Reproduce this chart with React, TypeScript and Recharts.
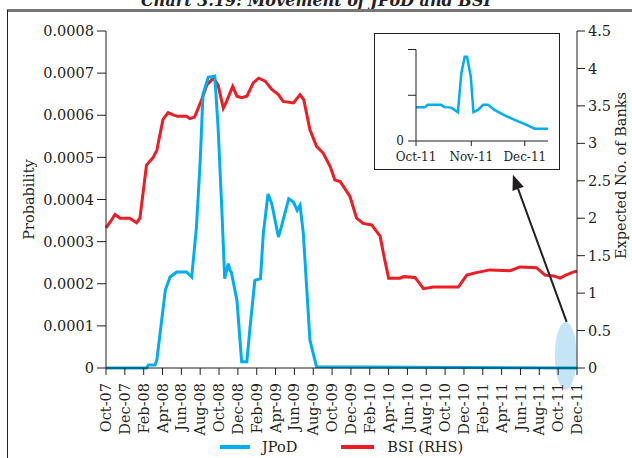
import React from 'react';
import {
  LineChart,
  Line,
  XAxis,
  YAxis,
  Legend,
  ReferenceArea,
  ReferenceLine,
} from 'recharts';

// month index: 0 = Oct-07 ... 50 = Dec-11
const MONTH_LABELS = [
  'Oct-07', 'Dec-07', 'Feb-08', 'Apr-08', 'Jun-08', 'Aug-08', 'Oct-08', 'Dec-08',
  'Feb-09', 'Apr-09', 'Jun-09', 'Aug-09', 'Oct-09', 'Dec-09', 'Feb-10', 'Apr-10',
  'Jun-10', 'Aug-10', 'Oct-10', 'Dec-10', 'Feb-11', 'Apr-11', 'Jun-11', 'Aug-11',
  'Oct-11', 'Dec-11',
];
const MONTH_TICKS = MONTH_LABELS.map((_, i) => i * 2);

const PROB_TICKS = [0, 0.0001, 0.0002, 0.0003, 0.0004, 0.0005, 0.0006, 0.0007, 0.0008];
const BANK_TICKS = [0, 0.5, 1, 1.5, 2, 2.5, 3, 3.5, 4, 4.5];

// BSI (RHS) - expected no. of banks
const BSI_MONTH = [
  0, 0.5, 0.95, 1.5, 2.5, 3.25, 3.6, 4.3, 5, 5.4, 6.05, 6.6, 7.1, 7.6, 8.55, 8.9,
  9.4, 10.15, 10.7, 11.4, 11.9, 12.45, 12.8, 13.45, 13.9, 14.4, 14.95, 15.65, 16.2,
  16.9, 17.6, 18.3, 18.8, 19.9, 20.6, 21, 21.65, 22.35, 23.05, 23.8, 24.3, 24.85,
  25.9, 26.6, 27.3, 28.2, 29.1, 29.45, 30, 31.2, 31.6, 32.8, 33.7, 34.75, 37.4,
  38.3, 39.2, 40.75, 42.9, 43.95, 45.7, 46.6, 47.5, 48.2, 48.8, 49.8, 50,
];
const BSI_VALUE = [
  1.87, 1.96, 2.05, 2.0, 2.0, 1.94, 2.0, 2.71, 2.81, 2.91, 3.32, 3.41, 3.38, 3.36,
  3.36, 3.33, 3.35, 3.58, 3.78, 3.87, 3.78, 3.47, 3.56, 3.76, 3.63, 3.61, 3.63, 3.81,
  3.87, 3.83, 3.72, 3.65, 3.56, 3.54, 3.65, 3.58, 3.18, 2.96, 2.87, 2.69, 2.51, 2.49,
  2.29, 2.0, 1.93, 1.91, 1.76, 1.53, 1.2, 1.2, 1.22, 1.21, 1.06, 1.08, 1.08, 1.24,
  1.27, 1.31, 1.3, 1.35, 1.34, 1.24, 1.23, 1.2, 1.24, 1.29, 1.29,
];

// JPoD - probability
const JPOD_MONTH = [
  0, 4.3, 4.5, 5.2, 5.4, 6.3, 6.8, 7.5, 8.55, 9.1, 9.6, 10.0, 10.3, 10.85, 11.55,
  11.9, 12.3, 12.6, 12.98, 13.2, 13.3, 13.9, 14.4, 14.95, 15.3, 15.8, 16.4, 16.7,
  17.2, 17.6, 18.3, 18.6, 19.4, 19.9, 20.3, 20.6, 20.95, 21.3, 21.65, 22.35, 50,
];
const JPOD_VALUE = [
  0, 0, 0.000007, 0.000007, 0.000019, 0.000185, 0.000216, 0.000228, 0.000228,
  0.000216, 0.000334, 0.000492, 0.00065, 0.00069, 0.000693, 0.000571, 0.000374,
  0.000212, 0.000248, 0.00023, 0.000228, 0.000161, 0.000015, 0.000015, 0.000098,
  0.000208, 0.000212, 0.000319, 0.000413, 0.00039, 0.000311, 0.000334, 0.000402,
  0.000394, 0.000374, 0.000386, 0.000319, 0.000192, 0.000066, 0.000003, 0,
];

// inset: JPoD Oct-11 to mid Dec-11, days from 1 Oct
const INSET_LABELS = ['Oct-11', 'Nov-11', 'Dec-11'];
const INSET_TICKS = [0, 31, 61];
const INSET_DAY = [0, 5, 6.6, 14, 16, 19.8, 23.5, 25.4, 27.3, 28.6, 30.7, 32.2, 34.8, 37.6, 40.4, 44, 49.7, 55.3, 61, 66.6, 74];
const INSET_VALUE = [0.74, 0.74, 0.79, 0.79, 0.74, 0.73, 0.63, 1.48, 1.84, 1.84, 1.41, 0.63, 0.68, 0.79, 0.79, 0.68, 0.56, 0.46, 0.37, 0.27, 0.27];

const bsiData = BSI_MONTH.map((m, i) => ({ m, bsi: BSI_VALUE[i] }));
const jpodData = JPOD_MONTH.map((m, i) => ({ m, jpod: JPOD_VALUE[i] }));
const insetData = INSET_DAY.map((d, i) => ({ d, v: INSET_VALUE[i] }));

const BLUE = '#00aeef';
const RED = '#ee1c25';
const INK = '#231f20';
const FONT = "'DejaVu Serif', serif";

const MonthTick = ({ x, y, payload }: any) => (
  <text
    x={x}
    y={y}
    transform={`rotate(-90, ${x}, ${y})`}
    textAnchor="end"
    dy="0.35em"
    fontSize={14.5}
    fill={INK}
  >
    {MONTH_LABELS[Math.round(payload.value / 2)]}
  </text>
);

const LegendRow = () => (
  <div style={{ display: 'flex', justifyContent: 'center', alignItems: 'center', height: 22, fontSize: 14.5, color: INK, fontFamily: FONT }}>
    <span style={{ width: 30, height: 4, background: BLUE, marginRight: 12 }} />
    <span style={{ marginRight: 44 }}>JPoD</span>
    <span style={{ width: 33, height: 4, background: RED, marginRight: 13 }} />
    <span>BSI (RHS)</span>
  </div>
);

const Ellipse = (props: any) => {
  const { x, y, width, height } = props;
  return <ellipse cx={x + width / 2} cy={y + height / 2} rx={width / 2} ry={height / 2} fill="#c3e5f6" />;
};

const Arrow = (props: any) => {
  const { x1, y1, x2, y2 } = props;
  const dx = x2 - x1;
  const dy = y2 - y1;
  const len = Math.sqrt(dx * dx + dy * dy);
  const ux = dx / len;
  const uy = dy / len;
  const hl = 15;
  const hw = 6;
  const bx = x2 - ux * hl;
  const by = y2 - uy * hl;
  return (
    <g>
      <line x1={x1} y1={y1} x2={bx} y2={by} stroke={INK} strokeWidth={2} />
      <polygon
        points={`${x2},${y2} ${bx - uy * hw},${by + ux * hw} ${bx + uy * hw},${by - ux * hw}`}
        fill={INK}
      />
    </g>
  );
};

const axisTitle = (text: string, dx: number, dy: number) => (props: any) => {
  const vb = props.viewBox;
  const cx = vb.x + dx;
  const cy = vb.y + vb.height / 2 + dy;
  return (
    <text x={cx} y={cy} transform={`rotate(-90, ${cx}, ${cy})`} textAnchor="middle" dy="0.35em" fontSize={14.5} fill={INK}>
      {text}
    </text>
  );
};

function Inset() {
  return (
    <div
      style={{
        position: 'absolute',
        left: 374,
        top: 33,
        width: 186,
        height: 137,
        boxSizing: 'border-box',
        border: `1.5px solid ${INK}`,
        background: '#fff',
      }}
    >
      <LineChart width={183} height={134} margin={{ top: 15.5, right: 10, left: 0, bottom: 0 }}>
        <XAxis
          dataKey="d"
          type="number"
          domain={[0, 74]}
          ticks={INSET_TICKS}
          interval={0}
          tickFormatter={(v: number) => INSET_LABELS[INSET_TICKS.indexOf(v)]}
          height={27}
          tickSize={5}
          tickMargin={6}
          stroke={INK}
          tick={{ fill: INK, fontSize: 12 }}
        />
        <YAxis
          type="number"
          domain={[0, 2]}
          ticks={[0, 1, 2]}
          tickFormatter={(v: number) => (v === 0 ? '0' : '')}
          width={41}
          tickSize={8}
          tickMargin={4}
          stroke={INK}
          tick={{ fill: INK, fontSize: 12 }}
        />
        <Line data={insetData} dataKey="v" stroke={BLUE} strokeWidth={2.5} dot={false} isAnimationActive={false} />
      </LineChart>
    </div>
  );
}

export default function App() {
  return (
    <div
      style={{
        position: 'fixed',
        left: 0,
        top: 0,
        width: 632,
        height: 458,
        background: '#fff',
        overflow: 'hidden',
        fontFamily: FONT,
      }}
    >
      <div
        style={{
          position: 'absolute',
          left: 0,
          width: 632,
          top: -7.5,
          textAlign: 'center',
          fontSize: 16,
          lineHeight: '16px',
          fontWeight: 'bold',
          fontStyle: 'italic',
          color: INK,
        }}
      >
        Chart 3.19: Movement of JPoD and BSI
      </div>
      <div style={{ position: 'absolute', left: 7, top: 9, width: 625, height: 2.5, background: '#777' }} />
      <div style={{ position: 'absolute', left: 7, top: 10, width: 1, height: 448, background: INK }} />

      <LineChart width={632} height={458} margin={{ top: 31, right: 0, left: 0, bottom: 0 }} style={{ position: 'absolute', left: 0, top: 0 }}>
        <XAxis
          dataKey="m"
          type="number"
          domain={[0, 50]}
          ticks={MONTH_TICKS}
          interval={0}
          height={68}
          tickSize={7}
          tickMargin={8}
          stroke={INK}
          tick={<MonthTick />}
        />
        <YAxis
          yAxisId="left"
          type="number"
          domain={[0, 0.0008]}
          ticks={PROB_TICKS}
          interval={0}
          width={106}
          tickSize={9}
          tickMargin={3}
          stroke={INK}
          tick={{ fill: INK, fontSize: 14.5 }}
          tickFormatter={(v: number) => (v === 0 ? '0' : v.toFixed(4))}
          label={{ content: axisTitle('Probability', 29, 0) }}
        />
        <YAxis
          yAxisId="right"
          orientation="right"
          type="number"
          domain={[0, 4.5]}
          ticks={BANK_TICKS}
          interval={0}
          width={55}
          tickSize={8}
          tickMargin={3}
          stroke={INK}
          tick={{ fill: INK, fontSize: 14.5 }}
          label={{ content: axisTitle('Expected No. of Banks', 44, -24) }}
        />
        <ReferenceArea
          yAxisId="right"
          x1={47.65}
          x2={49.95}
          y1={-0.29}
          y2={0.615}
          ifOverflow="visible"
          shape={<Ellipse />}
        />
        <Line
          yAxisId="right"
          data={bsiData}
          dataKey="bsi"
          name="BSI (RHS)"
          stroke={RED}
          strokeWidth={3}
          dot={false}
          isAnimationActive={false}
        />
        <Line
          yAxisId="left"
          data={jpodData}
          dataKey="jpod"
          name="JPoD"
          stroke={BLUE}
          strokeWidth={3}
          dot={false}
          isAnimationActive={false}
        />
        <ReferenceLine
          yAxisId="right"
          segment={[{ x: 48.9, y: 0.615 }, { x: 43.2, y: 2.58 }]}
          ifOverflow="visible"
          shape={(p: any) => <Arrow {...p} />}
        />
        <Legend
          verticalAlign="bottom"
          height={22}
          wrapperStyle={{ left: 106, width: 471, bottom: 0 }}
          content={() => <LegendRow />}
        />
      </LineChart>
      <Inset />
    </div>
  );
}
